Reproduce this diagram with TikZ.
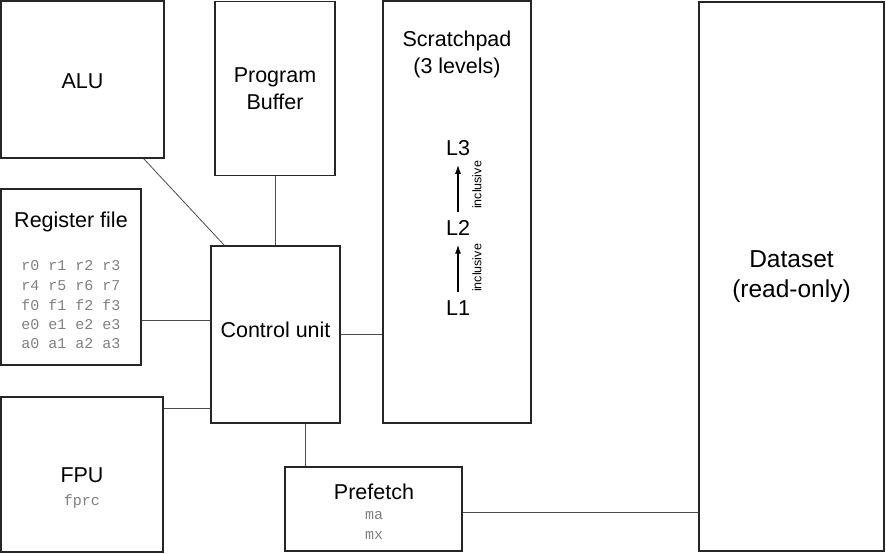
\documentclass[tikz,border=0pt]{standalone}
\usepackage{fontspec}
\setmainfont{Liberation Sans}
\setmonofont{Liberation Mono}
\usepackage{tikz}
\usetikzlibrary{positioning}
\usetikzlibrary{arrows,arrows.meta,shapes}
\usetikzlibrary{calc}
\tikzstyle{unit}=[rectangle,draw=black!85,line width=1.5pt,inner sep=0pt]
\tikzstyle{link} = [draw,black!70,line width=0.8pt]
\tikzstyle{level} = [draw,line width=1.2pt,-{Latex[length=9pt,width=6pt]}]
\tikzstyle{boxtext} = [font=\fontsize{21.5}{27}\selectfont,align=center,inner sep=0pt]
\tikzstyle{bigtext} = [font=\fontsize{24.5}{30}\selectfont,align=center,inner sep=0pt]
\tikzstyle{regs} = [font=\fontsize{15}{19.5}\ttfamily,text=black!50,align=center,inner sep=0pt]
\tikzstyle{tag} = [font=\fontsize{12.5}{14}\selectfont,rotate=90,inner sep=0pt]

\begin{document}
\begin{tikzpicture}[x=1pt,y=-1pt]
    \useasboundingbox (0,0) rectangle (886,554);
    % First we draw the boxes
    \foreach \pos/\w/\h/\name in {{(82.5,79.5)/163/157/ALU}, {(275,88.5)/120/174/prog}, {(457,212)/148/422/scratch}, {(791.5,276.5)/185/549/data}, {(71,277)/140/176/reg}, {(275.5,334.5)/129/177/ctrl}, {(82,474.5)/162/155/fpu}, {(373.5,509)/177/84/pref}}
        \node[unit, minimum width=\w pt, minimum height=\h pt] (\name) at \pos {};

    % texts in the boxes
    \node[boxtext] (alutext) at (82.5,81) {ALU};
    \node[boxtext] (progtext) at (275,89) {Program\\Buffer};
    \node[boxtext] (scratchtext) at (457,54) {Scratchpad\\(3 levels)};
    \node[bigtext] (datatext) at (791.5,277) {Dataset\\(read-only)};
    \node[boxtext] (regtext) at (71,222) {Register file};
    \node[boxtext] (ctrltext) at (275.5,330) {Control unit};
    \node[boxtext] (fputext) at (82,475) {FPU};
    \node[regs] (fprc) at (82,502) {fprc};
    \node[boxtext] (preftext) at (374,492) {Prefetch};
    \node[regs] (ma) at (374,516) {ma};
    \node[regs] (mx) at (374,535) {mx};

    % register names
    \foreach \row [count=\i] in {r0 r1 r2 r3, r4 r5 r6 r7, f0 f1 f2 f3, e0 e1 e2 e3, a0 a1 a2 a3}
        \node[regs] (reg\i) at (71,246.5+19.5*\i) {\row};

    % scratchpad levels
    \node[boxtext] (L3) at (458,148) {L3};
    \node[boxtext] (L2) at (458,228) {L2};
    \node[boxtext] (L1) at (458,308) {L1};
    \path[level, shorten <=8pt, shorten >=9pt] (L1.north) -- (L2.south);
    \path[level, shorten <=8pt, shorten >=9pt] (L2.north) -- (L3.south);
    \node[tag] (inc1) at (477,268) {inclusive};
    \node[tag] (inc2) at (477,185) {inclusive};

    % Connect the boxes
    \coordinate (regtap) at ([yshift=-43pt]reg.east);
    \coordinate (fputap) at ([yshift=66.5pt]fpu.east);
    \coordinate (preftap) at ([xshift=30pt]ctrl.south);
    \coordinate (datatap) at ([yshift=-3pt]pref.east);
    \path[link] ([xshift=-21pt]ALU.south east) -- ([xshift=14pt]ctrl.north west);
    \path[link] (prog.south) -- (prog.south |- ctrl.north);
    \path[link] (regtap) -- (regtap -| ctrl.west);
    \path[link] (ctrl.east) -- (ctrl.east -| scratch.west);
    \path[link] (fputap) -- (fputap -| ctrl.west);
    \path[link] (preftap) -- (preftap |- pref.north);
    \path[link] (datatap) -- (datatap -| data.west);
\end{tikzpicture}
\end{document}
